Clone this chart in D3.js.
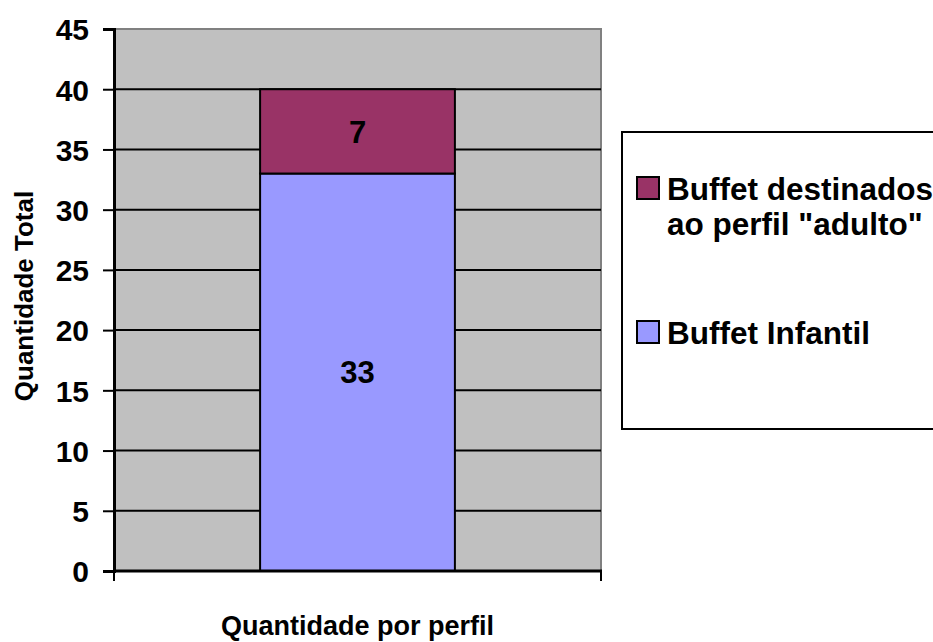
<!doctype html>
<html>
<head>
<meta charset="utf-8">
<title>Quantidade por perfil</title>
<script src="https://cdn.jsdelivr.net/npm/d3@7"></script>
<style>
  body { margin:0; background:#fff; }
  svg text { font-family: "Liberation Sans", Arial, sans-serif; font-weight: bold; fill:#000; }
</style>
</head>
<body>
<svg id="chart" width="933" height="642"></svg>
<script>
// data
var categories = ["Quantidade por perfil"];
var seriesNames = ["Buffet Infantil", "Buffet destinados ao perfil \"adulto\""];
var infantil = [33];
var adulto = [7];
var yTicks = [0, 5, 10, 15, 20, 25, 30, 35, 40, 45];
var legendLines = [["Buffet destinados", "ao perfil \"adulto\""], ["Buffet Infantil"]];
var colors = ["#9999FF", "#993366"];

var svg = d3.select("#chart");
var pLeft = 114, pRight = 601, pTop = 29, pBottom = 571;

var y = d3.scaleLinear().domain([0, 45]).range([pBottom, pTop]);
var x = d3.scaleBand().domain(categories).range([pLeft, pRight])
    .paddingInner(0.6).paddingOuter(0.3);

// plot background
svg.append("rect").attr("x", pLeft).attr("y", pTop)
   .attr("width", pRight - pLeft).attr("height", pBottom - pTop)
   .attr("fill", "#C0C0C0").attr("stroke", "#808080").attr("stroke-width", 2);

// gridlines
svg.append("g").selectAll("line").data(yTicks.filter(function(d){ return d > 0 && d < 45; }))
  .enter().append("line")
  .attr("x1", pLeft).attr("x2", pRight)
  .attr("y1", function(d){ return y(d); }).attr("y2", function(d){ return y(d); })
  .attr("stroke", "#000").attr("stroke-width", 2);

// stacked bars
var stacked = categories.map(function(c, i){
  return [
    {y0: 0, y1: infantil[i], color: colors[0], v: infantil[i], c: c},
    {y0: infantil[i], y1: infantil[i] + adulto[i], color: colors[1], v: adulto[i], c: c}
  ];
}).flat();

svg.append("g").selectAll("rect").data(stacked).enter().append("rect")
  .attr("x", function(d){ return x(d.c); })
  .attr("width", x.bandwidth())
  .attr("y", function(d){ return y(d.y1); })
  .attr("height", function(d){ return y(d.y0) - y(d.y1); })
  .attr("fill", function(d){ return d.color; })
  .attr("stroke", "#000").attr("stroke-width", 2);

svg.append("g").selectAll("text").data(stacked).enter().append("text")
  .attr("x", function(d){ return x(d.c) + x.bandwidth() / 2; })
  .attr("y", function(d){ return (y(d.y0) + y(d.y1)) / 2; })
  .attr("text-anchor", "middle").attr("dy", "0.36em")
  .style("font-size", "31px")
  .text(function(d){ return d.v; });

// y axis
var yAxis = d3.axisLeft(y).tickValues(yTicks).tickSize(11).tickPadding(14);
var gy = svg.append("g").attr("transform", "translate(" + pLeft + ",0)").call(yAxis);
gy.selectAll("text").style("font-size", "30px").attr("dy", "0.36em");
gy.selectAll("line").attr("stroke", "#000").attr("stroke-width", 2);
gy.select(".domain").attr("stroke", "#000").attr("stroke-width", 3);

// x axis line with end ticks
var gx = svg.append("g");
gx.append("line").attr("x1", pLeft - 1).attr("x2", pRight + 1)
  .attr("y1", pBottom).attr("y2", pBottom).attr("stroke", "#000").attr("stroke-width", 3);
gx.selectAll("line.t").data(x.range()).enter().append("line")
  .attr("x1", function(d){ return d; }).attr("x2", function(d){ return d; })
  .attr("y1", pBottom).attr("y2", pBottom + 10).attr("stroke", "#000").attr("stroke-width", 2);

// axis titles
svg.append("text").attr("x", x(categories[0]) + x.bandwidth() / 2).attr("y", 635)
  .attr("text-anchor", "middle").style("font-size", "27px").text(categories[0]);
svg.append("text").attr("transform", "translate(33," + ((pTop + pBottom) / 2 - 4) + ") rotate(-90)")
  .attr("text-anchor", "middle").style("font-size", "26px").text("Quantidade Total");

// legend
var lg = svg.append("g");
lg.append("rect").attr("x", 622).attr("y", 132).attr("width", 330).attr("height", 297)
  .attr("fill", "#fff").attr("stroke", "#000").attr("stroke-width", 2);
var items = [{color: colors[1], lines: legendLines[0], base: 200},
             {color: colors[0], lines: legendLines[1], base: 344}];
items.forEach(function(it){
  lg.append("rect").attr("x", 637).attr("y", it.base - 23).attr("width", 22).attr("height", 22)
    .attr("fill", it.color).attr("stroke", "#000").attr("stroke-width", 2);
  it.lines.forEach(function(l, j){
    lg.append("text").attr("x", 667).attr("y", it.base + j * 35)
      .style("font-size", "31.5px").text(l);
  });
});
</script>
</body>
</html>
